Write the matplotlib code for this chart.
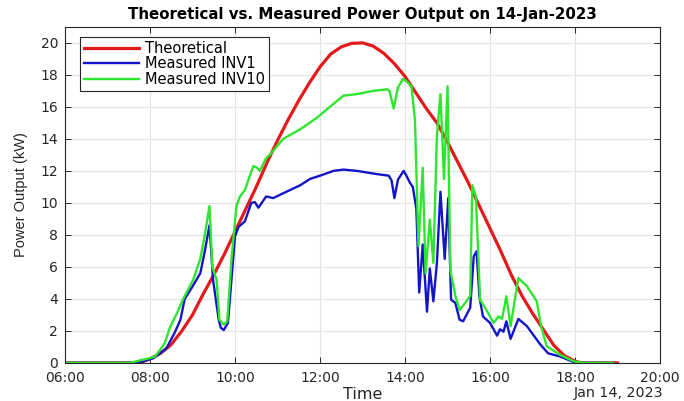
import pandas as pd
import numpy as np
import matplotlib
matplotlib.use("Agg")
import matplotlib.pyplot as plt
import matplotlib.dates as mdates

day = "2023-01-14 "

# theoretical curve
theo_t = ["06:00", "07:36", "07:48", "08:00", "08:15", "08:30", "08:45", "09:00", "09:15",
          "09:30", "09:45", "10:00", "10:15", "10:30", "10:45", "11:00", "11:15", "11:30",
          "11:45", "12:00", "12:15", "12:30", "12:45", "13:00", "13:15", "13:30", "13:45",
          "14:00", "14:15", "14:30", "14:45", "15:00", "15:15", "15:30", "15:45", "16:00",
          "16:15", "16:30", "16:45", "17:00", "17:15", "17:30", "17:45", "18:00", "18:10",
          "19:00"]
theo_p = [0, 0, 0.05, 0.25, 0.6, 1.15, 2.0, 3.0, 4.3,
          5.5, 6.8, 8.2, 9.6, 11.0, 12.5, 13.9, 15.2, 16.4,
          17.5, 18.5, 19.3, 19.75, 19.97, 20.0, 19.8, 19.35, 18.7,
          17.9, 16.9, 15.9, 15.0, 13.8, 12.5, 11.2, 9.8, 8.4,
          7.0, 5.5, 4.2, 3.1, 2.1, 1.1, 0.45, 0.1, 0,
          0]

inv1_t = ["06:00", "07:40", "07:50", "08:05", "08:23", "08:35", "08:43", "08:49", "08:59",
          "09:11", "09:17", "09:24", "09:29", "09:37", "09:40", "09:44", "09:50", "09:55",
          "10:00", "10:05", "10:14", "10:23", "10:28", "10:33", "10:44", "10:54", "11:08",
          "11:32", "11:46", "12:00", "12:19", "12:33", "12:52", "13:20", "13:37", "13:41",
          "13:45", "13:50", "13:58", "14:02", "14:07", "14:11", "14:16", "14:20", "14:25",
          "14:31", "14:35", "14:40", "14:45", "14:50", "14:56", "15:01", "15:05", "15:11",
          "15:17", "15:22", "15:32", "15:37", "15:41", "15:45", "15:50", "16:00", "16:10",
          "16:14", "16:19", "16:23", "16:29", "16:40", "16:52", "17:11", "17:22", "17:39",
          "17:58", "18:05", "18:55"]
inv1_p = [0, 0, 0.1, 0.3, 0.9, 1.9, 2.7, 4.0, 4.7,
          5.6, 6.9, 8.6, 5.2, 2.7, 2.2, 2.05, 2.5, 5.2,
          7.9, 8.5, 8.85, 10.0, 10.05, 9.7, 10.4, 10.3, 10.6,
          11.1, 11.5, 11.7, 12.0, 12.08, 12.0, 11.8, 11.7, 11.4,
          10.3, 11.45, 12.0, 11.7, 11.25, 11.0, 9.6, 4.4, 7.4,
          3.2, 5.9, 3.85, 6.25, 10.7, 6.5, 10.3, 3.95, 3.75,
          2.7, 2.6, 3.45, 6.66, 6.97, 4.16, 2.9, 2.5, 1.7,
          2.1, 1.95, 2.6, 1.5, 2.75, 2.3, 1.15, 0.6, 0.4,
          0.05, 0, 0]

inv10_t = ["06:00", "07:32", "07:45", "08:00", "08:07", "08:14", "08:21", "08:28", "08:38",
           "08:47", "09:01", "09:11", "09:17", "09:24", "09:28", "09:34", "09:38", "09:44",
           "09:49", "09:55", "10:02", "10:07", "10:14", "10:21", "10:26", "10:31", "10:35",
           "10:44", "10:49", "11:08", "11:32", "11:55", "12:14", "12:33", "12:52", "13:15",
           "13:35", "13:38", "13:44", "13:50", "13:57", "14:02", "14:09", "14:14", "14:19",
           "14:25", "14:29", "14:35", "14:40", "14:45", "14:50", "14:55", "15:00", "15:04",
           "15:11", "15:17", "15:25", "15:32", "15:35", "15:40", "15:46", "15:55", "16:05",
           "16:12", "16:17", "16:23", "16:29", "16:40", "16:52", "17:06", "17:12", "17:20",
           "17:39", "17:58", "18:12", "18:54"]
inv10_p = [0, 0, 0.15, 0.3, 0.4, 0.8, 1.25, 2.2, 3.1,
           4.0, 5.2, 6.5, 7.9, 9.8, 6.0, 5.2, 2.7, 2.4,
           2.6, 6.45, 9.8, 10.4, 10.8, 11.7, 12.3, 12.2, 12.0,
           12.8, 13.0, 14.0, 14.6, 15.3, 16.0, 16.7, 16.8, 17.0,
           17.1, 17.0, 15.9, 17.2, 17.75, 17.6, 17.3, 15.2, 7.3,
           12.2, 5.6, 8.95, 6.25, 14.2, 16.8, 11.5, 17.3, 5.8,
           4.2, 3.3, 3.75, 4.2, 11.1, 10.4, 3.95, 3.3, 2.5,
           2.9, 2.75, 4.16, 2.3, 5.3, 4.8, 3.85, 2.3, 1.04,
           0.5, 0.1, 0, 0]

def to_time(lst):
    return pd.to_datetime([day + t for t in lst])

fig = plt.figure(figsize=(6.84, 4.01), dpi=100)
ax = fig.add_axes([0.095, 0.095, 0.87, 0.838])

ax.plot(to_time(theo_t), theo_p, color='#e31a1c', lw=2.3, label='Theoretical')
ax.plot(to_time(inv1_t), inv1_p, color='#1414c8', lw=1.7, label='Measured INV1')
ax.plot(to_time(inv10_t), inv10_p, color='#2ee62e', lw=1.7, label='Measured INV10')

ax.set_xlim(pd.Timestamp(day + "06:00"), pd.Timestamp(day + "20:00"))
ax.set_ylim(0, 21)
ax.xaxis.set_major_locator(mdates.HourLocator(byhour=range(0, 24, 2)))
ax.xaxis.set_major_formatter(mdates.DateFormatter('%H:%M'))
ax.set_yticks(np.arange(0, 21, 2))

ax.grid(True, color='#e3e3e3', lw=0.8)
ax.set_axisbelow(True)
for s in ax.spines.values():
    s.set_color('#262626')
    s.set_linewidth(0.8)
ax.tick_params(direction='in', length=4, width=0.7, colors='#262626',
               top=True, right=True, labelsize=10)
ax.tick_params(axis='x', pad=6)
ax.tick_params(axis='y', pad=5)

ax.set_title('Theoretical vs. Measured Power Output on 14-Jan-2023',
             fontsize=10.8, fontweight='bold', pad=6)
ax.set_xlabel('Time', fontsize=11.5, color='#262626', labelpad=1)
ax.set_ylabel('Power Output (kW)', fontsize=10.5, color='#262626',
              family='Liberation Sans', labelpad=9)
ax.text(1.005, -0.09, 'Jan 14, 2023', transform=ax.transAxes, ha='right', va='center',
        fontsize=10.3, color='#262626')

leg = ax.legend(loc='upper left', bbox_to_anchor=(0.025, 0.97), fontsize=10.5,
                fancybox=False, edgecolor='#262626', framealpha=1,
                handlelength=3.8, handletextpad=0.4, labelspacing=0.02,
                borderpad=0.28, borderaxespad=0)
leg.get_frame().set_linewidth(0.8)

fig.savefig('out.png', dpi=100)
